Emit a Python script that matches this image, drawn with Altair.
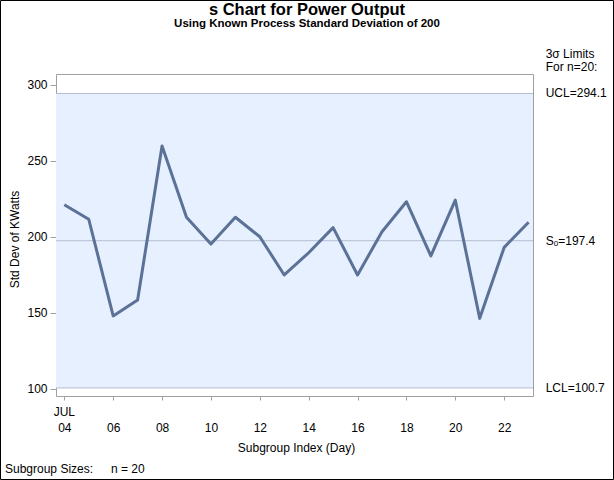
import altair as alt
import pandas as pd

# ---- data ----
days = list(range(4, 24))
s_values = [221.0, 211.5, 148.0, 158.4, 259.6, 212.8, 195.2, 212.8, 200.0, 174.9,
            189.5, 206.0, 174.9, 203.3, 223.0, 187.4, 224.1, 146.4, 193.0, 209.5]
ucl = 294.1
center = 197.4
lcl = 100.7
y_ticks = [100, 150, 200, 250, 300]
limit_labels = ["UCL=294.1", "S\u2092=197.4", "LCL=100.7"]
limit_values = [ucl, center, lcl]

FONT = "Liberation Sans"
W, H = 477, 322
LINE_COLOR = "#5B7196"
BAND_COLOR = "#E6F0FF"
REF_COLOR = "#B4BED2"
FRAME_COLOR = "#A0A0A0"

df = pd.DataFrame({"day": days, "s": s_values})
lim_df = pd.DataFrame({"s": [lcl], "ucl": [ucl]})
lab_df = pd.DataFrame({"label": limit_labels, "s": limit_values})
one = pd.DataFrame({"a": [0]})

x_scale = alt.Scale(domain=[3.66, 23.18], nice=False, zero=False)
y_scale = alt.Scale(domain=[95.4, 306.9], nice=False, zero=False)

x_axis = alt.Axis(
    values=days,
    labelExpr="datum.value % 2 == 0 ? (datum.value < 10 ? '0' : '') + datum.value : ''",
    tickSize=4, labelPadding=27, labelBaseline="middle",
    labelOverlap=False, labelFlush=False, grid=False, domain=False,
    tickColor=FRAME_COLOR, labelColor="black", labelFont=FONT, labelFontSize=12,
    title="Subgroup Index (Day)", titleFont=FONT, titleFontSize=12,
    titleFontWeight="normal", titleColor="black",
    titleX=240, titleY=51, titleBaseline="middle", titleAlign="center",
)
y_axis = alt.Axis(
    values=y_ticks, tickSize=6, labelPadding=3, grid=False, domain=False,
    tickColor=FRAME_COLOR, labelColor="black", labelFont=FONT, labelFontSize=12,
    labelOverlap=False, labelFlush=False,
    title="Std Dev of KWatts", titleFont=FONT, titleFontSize=12,
    titleFontWeight="normal", titleColor="black",
    titleX=-42, titleY=165, titleAngle=-90, titleBaseline="middle", titleAlign="center",
)

line = alt.Chart(df).mark_line(color=LINE_COLOR, strokeWidth=3, strokeJoin="round").encode(
    x=alt.X("day:Q", scale=x_scale, axis=x_axis),
    y=alt.Y("s:Q", scale=y_scale, axis=y_axis),
)

band = alt.Chart(lim_df).mark_rect(color=BAND_COLOR).encode(
    x=alt.value(0), x2=alt.value(W),
    y=alt.Y("s:Q", scale=y_scale), y2="ucl:Q",
)

rules = alt.Chart(lab_df).mark_rule(color=REF_COLOR, strokeWidth=1).encode(
    y=alt.Y("s:Q", scale=y_scale),
)

right_labels = alt.Chart(lab_df).mark_text(
    align="left", baseline="middle", font=FONT, fontSize=12, color="black"
).encode(
    x=alt.value(489.7),
    y=alt.Y("s:Q", scale=y_scale),
    text="label:N",
)

def fixed_text(txt, x, y, size=12, weight="normal", align="left"):
    return alt.Chart(one).mark_text(
        align=align, baseline="middle", font=FONT, fontSize=size,
        fontWeight=weight, color="black"
    ).encode(x=alt.value(x), y=alt.value(y), text=alt.value(txt))

jul = alt.Chart(pd.DataFrame({"day": [4]})).mark_text(
    align="center", baseline="middle", font=FONT, fontSize=12, color="black"
).encode(
    x=alt.X("day:Q", scale=x_scale),
    y=alt.value(338),
    text=alt.value("JUL"),
)

title = fixed_text("s Chart for Power Output", 251, -64, size=16.5, weight="bold", align="center")
subtitle = fixed_text("Using Known Process Standard Deviation of 200", 251, -50, size=11.5,
                      weight="bold", align="center")
lim1 = fixed_text("3\u03c3 Limits", 489.7, -20)
lim2 = fixed_text("For n=20:", 489.7, -7)
foot1 = fixed_text("Subgroup Sizes:", -51, 395)
foot2 = fixed_text("n = 20", 55, 395)

border = alt.Chart(one).mark_rect(filled=False, stroke="black", strokeWidth=1).encode(
    x=alt.value(-55.5), x2=alt.value(557.5), y=alt.value(-73.5), y2=alt.value(405.5)
)

chart = alt.layer(
    band, rules, line, right_labels, jul, title, subtitle, lim1, lim2, foot1, foot2, border
).properties(
    width=W, height=H,
    autosize=alt.AutoSizeParams(type="none"),
    padding={"left": 56, "top": 74, "right": 81, "bottom": 84},
    background="white",
).configure_view(stroke=FRAME_COLOR, strokeWidth=1)

chart.save("out.html", embed_options={"renderer": "svg", "actions": False})
